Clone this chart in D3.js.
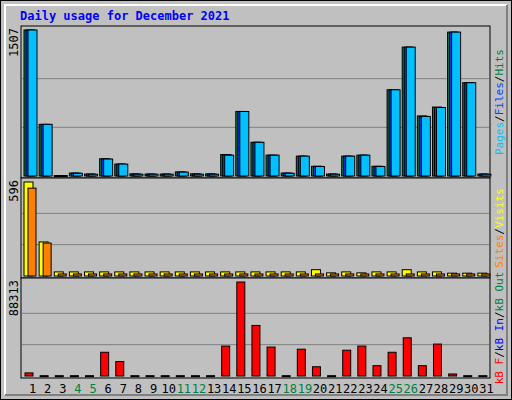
<!DOCTYPE html>
<html><head><meta charset="utf-8">
<script src="https://cdn.jsdelivr.net/npm/d3@7"></script>
<style>body{margin:0;background:#fff}svg text{font-family:"DejaVu Sans Mono",monospace}</style>
</head><body><div id="chart"></div>
<script>
// chart data
const days = d3.range(1, 32);
const weekends = [4, 5, 11, 12, 18, 19, 25, 26];
const hits  = [1507,533,5,30,20,178,123,22,20,20,42,22,22,222,666,348,215,30,205,100,20,205,215,100,890,1330,620,712,1485,963,20];
const files = [1507,533,5,30,20,175,123,20,20,20,40,20,20,218,666,348,215,30,205,100,20,205,215,100,890,1330,615,707,1485,963,20];
const pages = [1507,533,5,28,18,175,123,18,18,18,40,18,18,215,666,348,215,28,205,98,18,205,215,98,890,1330,615,707,1485,963,18];
const visits = [596,216,26,26,26,26,26,26,26,26,26,26,26,26,26,26,26,26,26,40,20,26,20,26,26,40,26,26,18,18,18];
const sites  = [557,209,13,13,13,13,13,13,13,13,13,13,13,13,13,13,13,13,13,13,13,13,13,13,13,13,13,13,13,13,13];
const kbytes = [2900,300,300,300,300,22300,13600,300,300,300,300,300,300,28100,88313,47500,27200,300,25200,8700,300,24200,28100,9700,22300,35900,9700,30000,1900,300,300];

const W = 512, H = 400, left = 21, right = 490;
const svg = d3.select("#chart").append("svg").attr("width", W).attr("height", H);

svg.append("rect").attr("x", 0.5).attr("y", 0.5).attr("width", W - 1).attr("height", H - 1)
  .attr("fill", "#c0c0c0").attr("stroke", "#000");
svg.append("path").attr("d", `M5,${H-5}V5H${W-5}`).attr("fill", "none").attr("stroke", "#fff").attr("stroke-width", 2);
svg.append("path").attr("d", `M5,${H-5}H${W-5}V5`).attr("fill", "none").attr("stroke", "#808080").attr("stroke-width", 2);

svg.append("text").attr("x", 20).attr("y", 20).attr("fill", "#0000ff")
  .attr("font-size", 12).attr("font-weight", "bold").text("Daily usage for December 2021");

const x = d3.scaleBand().domain(days).range([left, right]).paddingInner(0);

function panel(y0, y1, max, series, label, parts) {
  const y = d3.scaleLinear().domain([0, max]).range([y1 - 2, y0 + 4]);
  const g = svg.append("g");
  g.append("rect").attr("x", left).attr("y", y0).attr("width", right - left).attr("height", y1 - y0)
    .attr("fill", "#c0c0c0").attr("stroke", "#000");
  [1 / 3, 2 / 3].forEach(f => g.append("line").attr("x1", left + 1).attr("x2", right - 1)
    .attr("y1", y(max * f)).attr("y2", y(max * f)).attr("stroke", "#808080"));
  series.forEach(s => {
    g.selectAll(null).data(s.vals).join("rect")
      .attr("x", (d, i) => x(days[i]) + s.off).attr("width", s.w)
      .attr("y", d => y(d)).attr("height", d => Math.max(1, y(0) - y(d)))
      .attr("fill", s.color).attr("stroke", "#000");
  });
  g.append("text").attr("transform", `translate(18,${y0 + 2}) rotate(-90)`).attr("text-anchor", "end")
    .attr("font-size", 12).attr("fill", "#000").text(label);
  const t = g.append("text").attr("transform", `translate(503,${(y0 + y1) / 2}) rotate(-90)`)
    .attr("text-anchor", "middle").attr("font-size", 11);
  parts.forEach(p => t.append("tspan").attr("fill", p[1]).text(p[0]));
}

panel(26, 178, 1507, [
  { vals: hits, color: "#008040", off: 3, w: 9 },
  { vals: files, color: "#0040ff", off: 5, w: 9 },
  { vals: pages, color: "#00c0ff", off: 7, w: 9 }
], "1507", [["Pages", "#00c0ff"], ["/", "#000"], ["Files", "#0040ff"], ["/", "#000"], ["Hits", "#008040"]]);

panel(178, 278, 596, [
  { vals: visits, color: "#ffff00", off: 3, w: 9 },
  { vals: sites, color: "#ff8000", off: 7, w: 8 }
], "596", [["Sites", "#ff8000"], ["/", "#000"], ["Visits", "#ffff00"]]);

panel(278, 378, 88313, [
  { vals: kbytes, color: "#ff0000", off: 4, w: 8 }
], "88313", [["kB F", "#ff0000"], ["/", "#000"], ["kB In", "#0000ff"], ["/", "#000"], ["kB Out", "#008040"]]);

svg.selectAll(".day").data(days).join("text")
  .attr("x", d => x(d) + x.bandwidth() / 2 + 4).attr("y", 393).attr("text-anchor", "middle")
  .attr("font-size", 12).attr("fill", d => weekends.includes(d) ? "#008040" : "#000").text(d => d);
</script></body></html>
